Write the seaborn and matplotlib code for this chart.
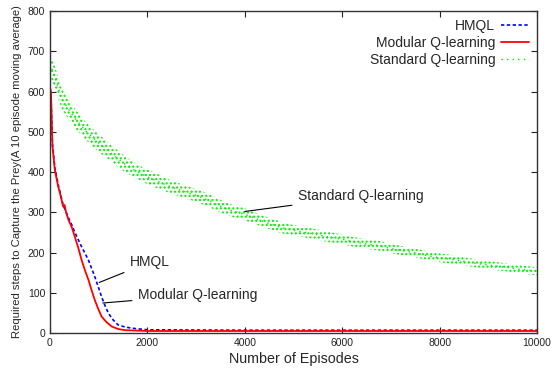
import pandas as pd
import matplotlib
matplotlib.use("Agg")
import matplotlib.pyplot as plt
import seaborn as sns

# Valores
EP_STANDARD = list(range(0, 10001, 250))
STANDARD = [670, 580, 535, 500, 472, 447, 423, 403, 388, 375, 362, 352, 342, 330,
            315, 303, 295, 283, 272, 262, 255, 250, 244, 238, 233, 226, 221, 217,
            210, 204, 199, 192, 187, 183, 178, 173, 169, 165, 161, 157, 153]
STANDARD_SPREAD = [30, 26, 24, 22, 22, 20, 20, 18, 18, 18, 16, 16, 16, 16,
                   16, 15, 15, 14, 14, 14, 13, 13, 13, 13, 12, 12, 12, 12,
                   12, 11, 11, 11, 11, 11, 10, 10, 10, 10, 10, 10, 10]

EP_MODULAR = [0, 20, 50, 100, 170, 200, 240, 270, 300, 330, 380, 450, 510, 580,
              650, 720, 790, 850, 920, 990, 1060, 1160, 1270, 1400, 1540, 1800,
              2000, 4000, 6000, 8000, 10000]
MODULAR = [610, 600, 465, 405, 363, 350, 330, 314, 318, 300, 281, 262, 239, 212,
           181, 155, 132, 108, 82, 60, 41, 27, 16, 10, 7, 6,
           5, 5, 5, 5, 5]

EP_HMQL = [0, 20, 50, 100, 170, 270, 380, 450, 510, 580, 650, 720, 790, 850,
           920, 990, 1060, 1130, 1200, 1300, 1400, 1540, 1680, 2000, 4000,
           6000, 8000, 10000]
HMQL = [600, 590, 470, 410, 368, 318, 286, 268, 250, 232, 214, 198, 181, 162,
        140, 115, 90, 68, 49, 32, 20, 15, 12, 8, 7,
        7, 7, 7]

X_TICKS = [0, 2000, 4000, 6000, 8000, 10000]
Y_TICKS = list(range(0, 801, 100))

VERDE = "#00ee00"
VERMELHO = "#ff0000"
AZUL = "#0000ff"


def main():
    sns.set_style("ticks")
    plt.rcParams["font.family"] = ["Liberation Sans", "DejaVu Sans"]
    plt.rcParams["hatch.linewidth"] = 1.0
    plt.rcParams["hatch.color"] = VERDE

    df_std = pd.DataFrame({"ep": EP_STANDARD, "val": STANDARD, "spread": STANDARD_SPREAD})
    df_mod = pd.DataFrame({"ep": EP_MODULAR, "val": MODULAR})
    df_hmql = pd.DataFrame({"ep": EP_HMQL, "val": HMQL})

    fig = plt.figure(figsize=(5.53, 3.72), dpi=100)
    ax = fig.add_axes([0.0904, 0.1048, 0.8806, 0.8656])

    # banda com ruído do Q-learning padrão
    ax.fill_between(df_std["ep"], df_std["val"] - df_std["spread"],
                    df_std["val"] + df_std["spread"], facecolor="none",
                    edgecolor=VERDE, hatch="....", linewidth=0)
    sns.lineplot(data=df_std, x="ep", y="val", ax=ax, color=VERDE, linewidth=1.0,
                 linestyle=(0, (1, 3)), label="Standard Q-learning")
    sns.lineplot(data=df_hmql, x="ep", y="val", ax=ax, color=AZUL, linewidth=1.2,
                 linestyle=(0, (2, 1.5)), label="HMQL")
    sns.lineplot(data=df_mod, x="ep", y="val", ax=ax, color=VERMELHO, linewidth=1.3,
                 label="Modular Q-learning")

    ax.set_xlim(0, 10000)
    ax.set_ylim(0, 800)
    ax.set_xticks(X_TICKS)
    ax.set_yticks(Y_TICKS)
    ax.tick_params(direction="in", length=4, width=0.8, labelsize=7.5,
                   top=True, right=True, colors="#222222")
    for sp in ax.spines.values():
        sp.set_linewidth(1.0)
        sp.set_color("#333333")

    ax.set_xlabel("Number of Episodes", fontsize=10.3, labelpad=3)
    ax.set_ylabel("Required steps to Capture the Prey(A 10 episode moving average)",
                  fontsize=8.1, labelpad=4)

    # ordem da legenda como no original
    handles, labels = ax.get_legend_handles_labels()
    ordem = ["HMQL", "Modular Q-learning", "Standard Q-learning"]
    hs = [handles[labels.index(o)] for o in ordem]
    leg = ax.legend(hs, ordem, loc="upper right", frameon=False, fontsize=10,
                    markerfirst=False, handlelength=2.0, handletextpad=0.4,
                    labelspacing=0.2, borderaxespad=0.2)
    for t in leg.get_texts():
        t.set_ha("right")

    seta = dict(arrowstyle="-", color="black", linewidth=0.8)
    ax.annotate("HMQL", xy=(958, 123), xytext=(1640, 176), fontsize=10,
                va="center", arrowprops=seta)
    ax.annotate("Modular Q-learning", xy=(1027, 74), xytext=(1807, 94),
                fontsize=10, va="center", arrowprops=seta)
    ax.annotate("Standard Q-learning", xy=(3942, 301), xytext=(5092, 340),
                fontsize=10, va="center", arrowprops=seta)

    plt.savefig("out.png", dpi=100)


if __name__ == "__main__":
    main()
